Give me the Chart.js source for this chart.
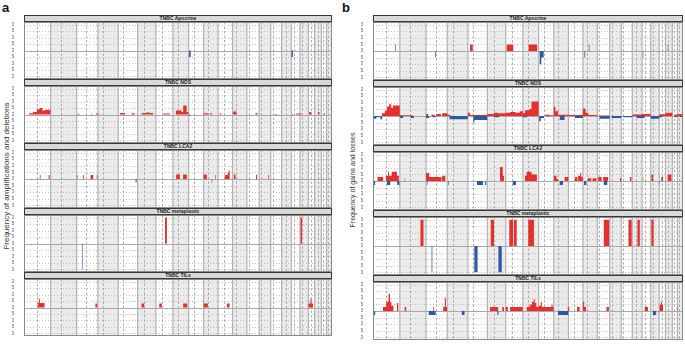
<!DOCTYPE html>
<html><head><meta charset="utf-8">
<script src="https://cdn.jsdelivr.net/npm/chart.js@4/dist/chart.umd.min.js"></script>
<style>
html,body{margin:0;padding:0;background:#fff;}
body{width:685px;height:348px;position:relative;overflow:hidden;font-family:"Liberation Sans",Arial,sans-serif;}
.strip{position:absolute;box-sizing:border-box;border:1px solid #3a3a3a;background:#d9d9d9;font-size:5px;line-height:5px;font-weight:bold;text-align:center;color:#222;}
canvas{position:absolute;}
.ytitle{position:absolute;white-space:nowrap;color:#333;transform:translate(-50%,-50%) rotate(-90deg);}
.plabel{position:absolute;font-size:13px;line-height:13px;font-weight:bold;color:#111;}
</style>
</head><body>
<div class="plabel" style="left:2px;top:1px;">a</div>
<div class="plabel" style="left:342px;top:1px;">b</div>
<div class="ytitle" style="left:6px;top:176px;font-size:8px;">Frequency of amplifications and deletions</div>
<div class="ytitle" style="left:352px;top:180px;font-size:7px;">Frequency of gains and losses</div>
<script>
// ---------- genome layout (hg19, Mb) ----------
const CHR_LABELS = ['1','2','3','4','5','6','7','8','9','10','11','12','13','14','15','16','17','18','19','20','21','22'];
const CHR_LEN = [249.3,243.2,198.0,191.2,180.9,171.1,159.1,146.4,141.2,135.5,135.0,133.9,115.2,107.3,102.5,90.4,81.2,78.1,59.1,63.0,48.1,51.3];
const CHR_CEN = [125,93.3,91,50.4,48.4,61,59.9,45.6,49,40.2,53.7,35.8,17.9,17.6,19,36.6,24,17.2,26.5,27.5,13.2,14.7];
const Y_TICKS = [-100,-75,-50,-25,0,25,50,75,100];
const PANEL_TITLES = ['TNBC Apocrine','TNBC NOS','TNBC LCA2','TNBC metaplastic','TNBC TILs'];

// ---------- segments: [chromosome, startMb, endMb, frequency %] ----------
// Panel a: amplifications (+) and deletions (-)
const A_APOCRINE_GAIN = [];
const A_APOCRINE_LOSS = [[9,5,20,-25],[17,2,15,-25]];
const A_NOS_GAIN = [[1,45,85,5],[1,85,120,10],[1,120,150,20],[1,150,172,25],[1,172,195,15],[1,195,248,18],
  [3,8,25,3],[3,88,96,3],[3,135,145,3],[3,180,198,4],[4,0,15,3],[5,16,63,6],[5,125,155,5],
  [6,37,80,6],[6,80,110,8],[6,110,146,6],[7,68,131,4],[8,28,81,15],[8,81,96,10],[8,96,128,35],[8,128,146,10],
  [10,0,45,5],[10,60,80,5],[11,15,30,5],[12,5,37,12],[13,80,100,6],[17,47,81,4],[18,0,13,4],
  [19,7,29,10],[20,30,45,10],[21,25,35,5]];
const A_NOS_LOSS = [[9,5,15,-6],[15,40,60,-3],[17,5,15,-4]];
const A_LCA2_GAIN = [[1,145,155,15],[1,230,240,15],[3,2,8,15],[3,58,66,15],[3,130,155,15],[3,188,196,15],
  [8,30,65,17],[8,95,130,17],[10,0,30,17],[10,110,116,15],[11,62,90,15],[11,90,100,25],[11,100,108,33],
  [12,12,28,17],[13,85,95,15],[14,85,92,15],[15,92,95,15],[20,52,55,15]];
const A_LCA2_LOSS = [[5,160,172,-12],[10,75,82,-15]];
const A_META_GAIN = [[7,84,103,100],[18,6,22,100]];
const A_META_LOSS = [[3,48,57,-100]];
const A_TILS_GAIN = [[1,125,138,17],[1,138,148,35],[1,148,192,17],[3,175,193,15],[6,37,62,15],[7,31,56,15],
  [7,143,150,15],[8,96,134,15],[9,15,20,15],[10,0,40,15],[11,82,107,15],[15,92,95,15],[17,35,42,15],
  [19,0,20,15],[19,20,30,35],[19,30,44,15]];
const A_TILS_LOSS = [];

// Panel b: gains (+) and losses (-)
const B_APOCRINE_GAIN = [[1,3,9,25],[1,204,211,25],[5,20,45,25],[7,9,70,25],[8,53,133,25],[12,54,61,25],[20,20,27,25]];
const B_APOCRINE_LOSS = [[3,82,90,-25],[9,10,25,-50],[9,25,47,-25],[12,14,21,-25],[17,7,14,-25]];
const B_NOS_GAIN = [[1,0,10,5],[1,83,110,10],[1,110,130,20],[1,130,150,35],[1,150,170,45],[1,170,185,30],[1,185,249,40],
  [2,0,120,3],[3,0,20,8],[3,50,80,5],[3,95,140,8],[3,150,198,10],[4,0,30,5],[5,0,20,12],[5,20,180,4],
  [6,0,60,8],[6,60,100,12],[6,100,171,10],[7,0,40,12],[7,40,90,15],[7,90,130,12],[7,130,159,18],
  [8,0,20,10],[8,20,60,22],[8,60,80,27],[8,80,146,55],[9,60,100,5],[9,100,141,3],
  [10,0,15,35],[10,15,40,18],[10,40,135,5],[11,0,135,4],[12,0,25,28],[12,25,50,12],[12,50,134,4],
  [13,20,115,2],[16,0,90,6],[17,0,81,8],[19,0,59,7],[20,0,63,12],[21,20,48,5],[22,0,51,8]];
const B_NOS_LOSS = [[1,0,30,-10],[1,30,60,-5],[1,68,85,-12],[2,0,30,-8],[2,100,130,-8],[3,0,30,-8],[3,60,90,-5],
  [4,20,191,-12],[5,50,60,-25],[5,60,180,-15],[6,60,110,-5],[8,0,40,-5],[9,5,20,-20],[9,20,50,-8],
  [10,55,100,-15],[11,60,135,-8],[13,20,115,-10],[14,20,107,-8],[15,20,103,-5],[16,40,90,-8],
  [17,0,25,-8],[18,0,78,-10],[19,0,30,-5],[21,20,48,-4],[22,20,51,-4]];
const B_LCA2_GAIN = [[1,40,95,15],[1,120,140,20],[1,140,150,35],[1,150,175,20],[1,175,222,35],[1,222,240,20],[2,45,50,10],
  [3,0,30,30],[3,30,145,15],[3,150,180,20],[3,188,193,30],[5,14,18,10],[6,118,143,53],[6,143,155,20],
  [8,20,35,20],[8,35,80,35],[8,80,130,25],[10,0,25,20],[10,25,40,8],[10,100,135,15],
  [11,60,85,15],[11,90,110,20],[11,110,120,30],[11,120,135,15],[12,45,78,10],[12,90,125,10],
  [13,8,40,15],[13,55,100,15],[14,95,107,10],[15,80,95,15],[17,8,12,15],[18,6,22,25],[19,20,36,15],
  [20,20,55,25],[21,36,40,15],[22,35,40,25]];
const B_LCA2_LOSS = [[1,5,20,-15],[1,130,160,-15],[1,225,245,-15],[3,8,14,-15],[4,10,16,-15],[5,85,140,-15],
  [5,160,170,-15],[7,65,95,-15],[10,55,85,-15],[12,10,32,-15],[13,60,92,-15],[17,30,34,-15],[19,4,8,-15]];
const B_META_GAIN = [[2,190,220,100],[6,32,62,100],[7,33,70,100],[7,77,102,100],[8,50,103,100],
  [13,60,110,100],[15,67,97,100],[16,48,70,100],[18,6,28,100]];
const B_META_LOSS = [[3,50,59,-100],[5,60,90,-100],[6,103,135,-100]];
const B_TILS_GAIN = [[1,93,123,15],[1,123,145,35],[1,145,158,65],[1,158,170,35],[1,170,190,20],[1,222,235,30],[2,45,60,15],
  [3,65,72,15],[3,160,175,15],[3,175,185,50],[3,185,195,15],[6,25,100,15],[6,140,155,15],[7,0,20,15],[7,40,159,15],
  [8,35,65,15],[8,65,85,25],[8,85,100,35],[8,100,110,45],[8,110,125,30],[8,125,146,15],
  [9,0,20,20],[9,20,30,35],[9,30,120,15],[9,120,130,25],[9,130,141,15],[10,130,135.5,15],[11,0,8,15],
  [11,80,105,15],[12,0,12,35],[12,12,30,15],[13,85,107,15],[15,92,96,15],[17,25,55,15],
  [19,5,15,25],[19,15,25,35],[19,25,36,25],[21,44,48,15],[22,0,5,15]];
const B_TILS_LOSS = [[1,0,20,-15],[3,25,90,-15],[4,135,160,-15],[6,93,103,-15],[10,40,135,-15],[18,20,50,-15],[18,72,76,-15]];

const PANEL_A = [[A_APOCRINE_GAIN,A_APOCRINE_LOSS],[A_NOS_GAIN,A_NOS_LOSS],[A_LCA2_GAIN,A_LCA2_LOSS],[A_META_GAIN,A_META_LOSS],[A_TILS_GAIN,A_TILS_LOSS]];
const PANEL_B = [[B_APOCRINE_GAIN,B_APOCRINE_LOSS],[B_NOS_GAIN,B_NOS_LOSS],[B_LCA2_GAIN,B_LCA2_LOSS],[B_META_GAIN,B_META_LOSS],[B_TILS_GAIN,B_TILS_LOSS]];

// ---------- derived ----------
const CHR_START = [];
let acc = 0;
CHR_LEN.forEach(l => { CHR_START.push(acc); acc += l; });
const GENOME = acc;
const MIDS = CHR_LEN.map((l, i) => CHR_START[i] + l / 2);
const RED = '#e5302d', BLUE = '#2c58a6';

function toPoints(segs) {
  const pts = [];
  let lastEnd = null;
  segs.slice().sort((p, q) => (CHR_START[p[0]-1] + p[1]) - (CHR_START[q[0]-1] + q[1])).forEach(([c, s, e, v]) => {
    const x0 = CHR_START[c-1] + s, x1 = CHR_START[c-1] + Math.min(e, CHR_LEN[c-1]);
    if (lastEnd !== null && Math.abs(x0 - lastEnd) < 1e-6) {
      pts.pop();
      pts.push({x: x0, y: v});
    } else {
      pts.push({x: x0, y: 0}, {x: x0, y: v});
    }
    pts.push({x: x1, y: v}, {x: x1, y: 0});
    lastEnd = x1;
  });
  return pts;
}

const genomePlugin = {
  id: 'genome',
  beforeDatasetsDraw(chart) {
    const {ctx, chartArea: a, scales: {x, y}} = chart;
    ctx.save();
    ctx.fillStyle = '#ffffff';
    ctx.fillRect(a.left, a.top, a.right - a.left, a.bottom - a.top);
    for (let i = 0; i < 22; i++) {
      if (i % 2 === 1) {
        const l = x.getPixelForValue(CHR_START[i]), r = x.getPixelForValue(CHR_START[i] + CHR_LEN[i]);
        ctx.fillStyle = '#ebebeb';
        ctx.fillRect(l, a.top, r - l, a.bottom - a.top);
      }
    }
    // horizontal dotted grid
    ctx.strokeStyle = '#b4b4b4'; ctx.lineWidth = 0.8; ctx.setLineDash([1, 2]);
    Y_TICKS.forEach(v => {
      if (v === 0) return;
      const py = Math.round(y.getPixelForValue(v)) + 0.5;
      ctx.beginPath(); ctx.moveTo(a.left, py); ctx.lineTo(a.right, py); ctx.stroke();
    });
    // centromeres (dashed)
    ctx.strokeStyle = '#9c9c9c'; ctx.lineWidth = 0.8; ctx.setLineDash([2.5, 2]);
    CHR_CEN.forEach((c, i) => {
      const px = Math.round(x.getPixelForValue(CHR_START[i] + c)) + 0.5;
      ctx.beginPath(); ctx.moveTo(px, a.top); ctx.lineTo(px, a.bottom); ctx.stroke();
    });
    // chromosome boundaries
    ctx.setLineDash([]); ctx.strokeStyle = '#b2b2b2'; ctx.lineWidth = 1.2;
    for (let i = 1; i < 22; i++) {
      const px = x.getPixelForValue(CHR_START[i]);
      ctx.beginPath(); ctx.moveTo(px, a.top); ctx.lineTo(px, a.bottom); ctx.stroke();
    }
    // zero line
    const p0 = Math.round(y.getPixelForValue(0)) + 0.5;
    ctx.strokeStyle = '#a8a8a8'; ctx.lineWidth = 1;
    ctx.beginPath(); ctx.moveTo(a.left, p0); ctx.lineTo(a.right, p0); ctx.stroke();
    ctx.restore();
  },
  afterDatasetsDraw(chart) {
    const {ctx, chartArea: a} = chart;
    ctx.save();
    ctx.strokeStyle = '#8a8a8a'; ctx.lineWidth = 1;
    ctx.strokeRect(a.left + 0.5, a.top + 0.5, a.right - a.left - 1, a.bottom - a.top - 1);
    ctx.restore();
  }
};

function makeChart(left, top, width, height, series, showX) {
  const cv = document.createElement('canvas');
  cv.width = width; cv.height = height;
  cv.style.left = left + 'px'; cv.style.top = top + 'px';
  cv.style.width = width + 'px'; cv.style.height = height + 'px';
  document.body.appendChild(cv);
  new Chart(cv, {
    type: 'line',
    data: {datasets: [
      {data: toPoints(series[0]), backgroundColor: RED, borderColor: 'rgba(0,0,0,0)', borderWidth: 0, pointRadius: 0, fill: 'origin', tension: 0},
      {data: toPoints(series[1]), backgroundColor: BLUE, borderColor: 'rgba(0,0,0,0)', borderWidth: 0, pointRadius: 0, fill: 'origin', tension: 0}
    ]},
    options: {
      responsive: false, animation: false, devicePixelRatio: 1,
      layout: {padding: 0},
      plugins: {legend: {display: false}, tooltip: {enabled: false}},
      scales: {
        x: {type: 'linear', min: 0, max: GENOME, display: showX,
          grid: {display: false}, border: {display: false},
          afterBuildTicks: s => { s.ticks = MIDS.map(v => ({value: v})); },
          ticks: {autoSkip: false, maxRotation: 0, minRotation: 0, padding: 2, color: '#444',
            font: {size: 4.5, family: 'Liberation Sans'}, callback: (v, i) => CHR_LABELS[i]},
          afterFit: s => { s.height = showX ? 10 : 0; s.paddingLeft = 0; s.paddingRight = 0; }},
        y: {type: 'linear', min: -110, max: 110,
          grid: {display: false}, border: {display: false},
          afterBuildTicks: s => { s.ticks = Y_TICKS.map(v => ({value: v})); },
          ticks: {autoSkip: false, padding: 2, color: '#444', font: {size: 4.5, family: 'Liberation Sans'}, callback: v => Math.abs(v)},
          afterFit: s => { s.width = 12; s.paddingTop = 0; s.paddingBottom = 0; }}
      }
    },
    plugins: [genomePlugin]
  });
}

function strip(left, top, width, text) {
  const d = document.createElement('div');
  d.className = 'strip';
  d.style.left = left + 'px'; d.style.top = top + 'px';
  d.style.width = width + 'px'; d.style.height = '7px';
  d.textContent = text;
  document.body.appendChild(d);
}

// Panel a
const A_STRIPS = [15, 79, 143, 208, 272], A_END = 336;
PANEL_A.forEach((ser, i) => {
  strip(24, A_STRIPS[i], 308, PANEL_TITLES[i]);
  const top = A_STRIPS[i] + 7;
  const bottom = i < 4 ? A_STRIPS[i + 1] : A_END;
  makeChart(12, top, 320, bottom - top + (i === 4 ? 10 : 0), ser, i === 4);
});
// Panel b
const B_STRIPS = [15, 80, 145, 210, 275], B_END = 340;
PANEL_B.forEach((ser, i) => {
  strip(373, B_STRIPS[i], 310, PANEL_TITLES[i]);
  const top = B_STRIPS[i] + 7;
  const bottom = i < 4 ? B_STRIPS[i + 1] : B_END;
  makeChart(361, top, 322, bottom - top + (i === 4 ? 10 : 0), ser, i === 4);
});
</script>
</body></html>
